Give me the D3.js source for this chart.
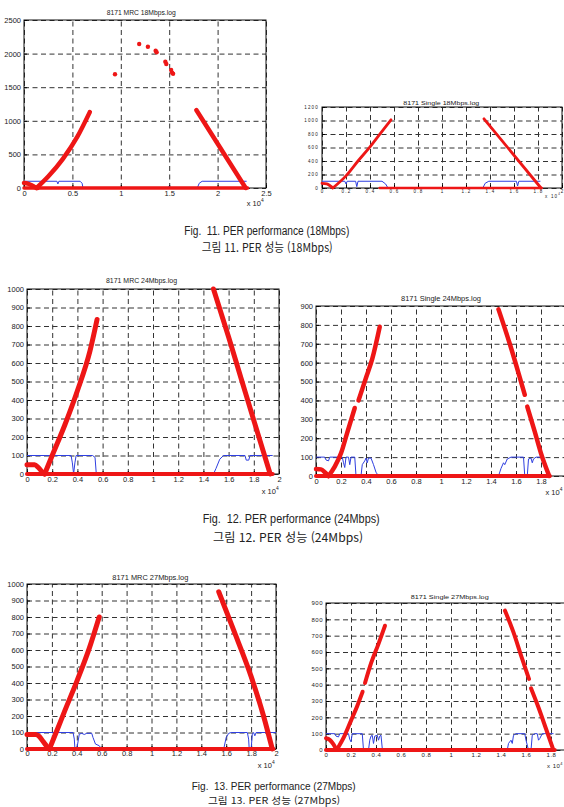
<!DOCTYPE html>
<html lang="ko">
<head>
<meta charset="utf-8">
<title>PER performance</title>
<script src="https://cdn.jsdelivr.net/npm/d3@7"></script>
<style>
body { margin: 0; background: #fff; }
svg { display: block; }
text { font-family: "Liberation Sans", Arial, sans-serif; fill: #222; }
.grid line { stroke: #333; stroke-dasharray: 5,3.5; }
.grid path { display: none; }
.cap { white-space: pre; }
</style>
</head>
<body>
<svg id="page" width="564" height="807"></svg>
<script>
// ---- tick values ----
var xTicksHalf = [0, 0.5, 1, 1.5, 2, 2.5];
var xTicksTwo = [0, 0.2, 0.4, 0.6, 0.8, 1, 1.2, 1.4, 1.6, 1.8, 2];
var xLabelsCut = [0, 0.2, 0.4, 0.6, 0.8, 1, 1.2, 1.4, 1.6, 1.8];   // page edge hides "2"
var yTicks2500 = [0, 500, 1000, 1500, 2000, 2500];
var yTicks1200 = [0, 200, 400, 600, 800, 1000, 1200];
var yTicks1000 = [0, 100, 200, 300, 400, 500, 600, 700, 800, 900, 1000];
var yTicks900 = [0, 100, 200, 300, 400, 500, 600, 700, 800, 900];

// ---- Fig 11 left: 8171 MRC 18Mbps (x in 10^4) ----
var mrc18Red = [
  [[0, 75], [0.04, 65], [0.08, 40], [0.12, 8], [0.14, 2]],
  [[0.13, 0], [0.25, 170], [0.4, 430], [0.55, 760], [0.68, 1130]],
  [[1.78, 1160], [2.29, 0]],
  [[0, 0], [2.31, 0]]
];
var mrc18Scatter = [[0.94, 1692], [1.19, 2143], [1.28, 2103], [1.36, 2043], [1.37, 2019],
  [1.46, 1880], [1.47, 1845], [1.52, 1756], [1.53, 1716], [1.54, 1700]];
var mrc18Blue = [[0, 100], [0.34, 100], [0.35, 60], [0.36, 100], [0.58, 100], [0.6, 70], [0.61, 0],
  [1.49, 0], [1.5, 30], [1.51, 0], [1.79, 0], [1.81, 70], [1.84, 100], [2.3, 100]];

// ---- Fig 11 right: 8171 Single 18Mbps ----
var single18Red = [
  [[0, 70], [0.04, 60], [0.07, 30], [0.09, 5]],
  [[0.09, 0], [0.2, 180], [0.3, 400], [0.4, 610], [0.5, 840], [0.575, 1010]],
  [[1.35, 1025], [1.825, 0]],
  [[0.48, 0], [1.83, 0]]
];
var single18Blue = [[0, 100], [0.19, 100], [0.2, 60], [0.21, 100], [0.28, 100], [0.29, 20], [0.3, 100],
  [0.5, 100], [0.53, 60], [0.55, 0], [1.34, 0], [1.36, 70], [1.39, 100], [1.62, 100], [1.63, 30],
  [1.64, 100], [1.82, 100]];

// ---- Fig 12 left: 8171 MRC 24Mbps ----
var mrc24Red = [
  [[0, 50], [0.06, 50], [0.09, 35], [0.12, 12], [0.14, 0]],
  [[0.14, 0], [0.2, 100], [0.3, 265], [0.4, 450], [0.5, 665], [0.556, 835]],
  [[1.48, 1000], [1.6, 740], [1.7, 515], [1.8, 290], [1.93, 0]],
  [[0, 0], [1.95, 0]]
];
var mrc24Blue = [[0, 100], [0.35, 100], [0.36, 60], [0.37, 0], [0.38, 60], [0.39, 100], [0.52, 100],
  [0.54, 90], [0.55, 0], [1.48, 0], [1.5, 30], [1.53, 80], [1.56, 100], [1.73, 100], [1.74, 75],
  [1.76, 75], [1.77, 100], [1.95, 100]];

// ---- Fig 12 right: 8171 Single 24Mbps ----
var single24Red = [
  [[0, 37], [0.04, 35], [0.07, 20], [0.1, 0]],
  [[0.1, 0], [0.15, 50], [0.2, 120], [0.25, 230], [0.31, 360]],
  [[0.34, 400], [0.4, 520], [0.45, 620], [0.51, 790]],
  [[1.46, 882], [1.55, 700], [1.62, 545], [1.67, 430]],
  [[1.69, 367], [1.75, 235], [1.8, 120], [1.866, 0]],
  [[0, 0], [1.87, 0]]
];
var single24Blue = [[0, 100], [0.07, 100], [0.08, 85], [0.1, 80], [0.11, 100], [0.21, 100], [0.22, 70],
  [0.23, 45], [0.24, 100], [0.26, 100], [0.27, 60], [0.28, 100], [0.31, 100], [0.32, 0], [0.36, 0],
  [0.37, 60], [0.39, 80], [0.4, 95], [0.41, 70], [0.42, 95], [0.44, 95], [0.46, 60], [0.48, 20],
  [0.5, 0], [1.46, 0], [1.48, 40], [1.5, 70], [1.51, 60], [1.53, 90], [1.56, 100], [1.66, 100],
  [1.67, 0], [1.69, 0], [1.7, 90], [1.72, 95], [1.73, 70], [1.74, 90], [1.76, 100], [1.82, 100]];

// ---- Fig 13 left: 8171 MRC 27Mbps ----
var mrc27Red = [
  [[0, 88], [0.07, 88], [0.1, 75], [0.13, 45], [0.16, 15], [0.18, 0]],
  [[0.18, 0], [0.25, 130], [0.3, 225], [0.4, 410], [0.5, 610], [0.58, 800]],
  [[1.54, 953], [1.66, 720], [1.8, 440], [1.9, 200], [1.97, 0]],
  [[0, 0], [1.98, 0]]
];
var mrc27Blue = [[0, 100], [0.37, 100], [0.38, 60], [0.385, 0], [0.4, 0], [0.42, 90], [0.44, 95],
  [0.46, 88], [0.48, 95], [0.52, 95], [0.53, 70], [0.55, 30], [0.58, 20], [0.6, 0], [1.58, 0],
  [1.6, 70], [1.62, 95], [1.64, 100], [1.77, 100], [1.78, 60], [1.785, 0], [1.8, 0], [1.81, 90],
  [1.82, 100], [1.83, 80], [1.84, 100], [2, 100]];

// ---- Fig 13 right: 8171 Single 27Mbps ----
var single27Red = [
  [[0, 72], [0.03, 62], [0.06, 35], [0.085, 0]],
  [[0.085, 0], [0.15, 90], [0.2, 180], [0.25, 270], [0.293, 357]],
  [[0.312, 410], [0.36, 530], [0.42, 650], [0.472, 761]],
  [[1.432, 853], [1.5, 720], [1.56, 580], [1.624, 435]],
  [[1.64, 378], [1.7, 260], [1.76, 130], [1.819, 0]],
  [[0, 0], [1.83, 0]]
];
var single27Blue = [[0, 100], [0.07, 100], [0.08, 85], [0.1, 80], [0.11, 100], [0.18, 100], [0.19, 65],
  [0.2, 50], [0.21, 100], [0.29, 100], [0.3, 0], [0.34, 0], [0.35, 60], [0.36, 85], [0.37, 90],
  [0.38, 40], [0.39, 85], [0.41, 90], [0.42, 60], [0.43, 85], [0.44, 90], [0.45, 10], [0.46, 0],
  [1.45, 0], [1.46, 40], [1.48, 60], [1.49, 40], [1.5, 90], [1.52, 100], [1.59, 100], [1.6, 60],
  [1.62, 0], [1.64, 0], [1.65, 90], [1.67, 100], [1.69, 100], [1.7, 60], [1.71, 70], [1.73, 100],
  [1.82, 100]];

var captionLines = [
  "Fig.  11. PER performance (18Mbps)", "그림 11. PER 성능 (18Mbps)",
  "Fig.  12. PER performance (24Mbps)", "그림 12. PER 성능 (24Mbps)",
  "Fig.  13. PER performance (27Mbps)", "그림 13. PER 성능 (27Mbps)"
];

var RED = "#ee1616", BLUE = "#2f3fe0";
var svg = d3.select("#page");

function drawChart(c) {
  var g = svg.append("g").attr("transform", "translate(" + c.left + "," + c.top + ")");
  var x = d3.scaleLinear().domain(c.xDomain).range([0, c.w]);
  var y = d3.scaleLinear().domain(c.yDomain).range([c.h, 0]);

  // dashed grid
  g.append("g").attr("class", "grid").attr("transform", "translate(0," + c.h + ")")
    .call(d3.axisBottom(x).tickValues(c.xTicks).tickSize(-c.h).tickFormat(""));
  g.append("g").attr("class", "grid")
    .call(d3.axisLeft(y).tickValues(c.yTicks).tickSize(-c.w).tickFormat(""));

  // box
  g.append("rect").attr("width", c.w).attr("height", c.h)
    .attr("fill", "none").attr("stroke", "#111").attr("stroke-width", 1);

  // axes
  var fmt = d3.format("~g");
  var xa = g.append("g").attr("transform", "translate(0," + c.h + ")")
    .call(d3.axisBottom(x).tickValues(c.xLabels || c.xTicks).tickSizeInner(-3).tickSizeOuter(0)
      .tickPadding(c.xPad).tickFormat(fmt));
  var ya = g.append("g")
    .call(d3.axisLeft(y).tickValues(c.yTicks).tickSizeInner(-3).tickSizeOuter(0)
      .tickPadding(3).tickFormat(fmt));
  [xa, ya].forEach(function(a) {
    a.select(".domain").remove();
    a.attr("font-family", null).attr("font-size", null);
    a.selectAll("text").style("font-size", c.font + "px").style("letter-spacing", c.ls + "px");
  });

  // blue curve
  var line = d3.line().x(function(d) { return x(d[0]); }).y(function(d) { return y(d[1]); });
  g.append("path").datum(c.blue).attr("d", line)
    .attr("fill", "none").attr("stroke", BLUE).attr("stroke-width", 1);

  // red markers (dense '*' trace drawn as thick bands)
  var redLine = d3.line().curve(d3.curveMonotoneX)
    .x(function(d) { return x(d[0]); }).y(function(d) { return y(d[1]); });
  g.selectAll(".red").data(c.red).enter().append("path")
    .attr("d", redLine).attr("fill", "none").attr("stroke", RED)
    .attr("stroke-linecap", "round").attr("stroke-linejoin", "round")
    .attr("stroke-width", function(d, i) { return i === c.red.length - 1 ? c.baseW : c.redW; });
  if (c.scatter) {
    g.selectAll(".dot").data(c.scatter).enter().append("circle")
      .attr("cx", function(d) { return x(d[0]); }).attr("cy", function(d) { return y(d[1]); })
      .attr("r", 2.2).attr("fill", RED);
  }

  // title
  svg.append("text").attr("x", c.titleX).attr("y", c.titleY)
    .attr("textLength", c.titleL).attr("lengthAdjust", "spacingAndGlyphs")
    .style("font-size", c.titleFont + "px").text(c.title);

  // x 10^4
  var ex = svg.append("text").attr("x", c.expX).attr("y", c.expY)
    .style("font-size", c.font + "px").style("letter-spacing", c.ls + "px").text("x 10");
  ex.append("tspan").attr("dy", -c.font * 0.5).style("font-size", (c.font * 0.65) + "px").text("4");
}

var charts = [
  { left: 24, top: 20, w: 242, h: 168, xDomain: [0, 2.5], yDomain: [0, 2500],
    xTicks: xTicksHalf, yTicks: yTicks2500, red: mrc18Red, blue: mrc18Blue, scatter: mrc18Scatter,
    font: 7.5, ls: 0, xPad: 2.5, redW: 4.5, baseW: 3.5,
    title: "8171 MRC 18Mbps.log", titleX: 106.7, titleY: 15.4, titleL: 69, titleFont: 7.5,
    expX: 246.7, expY: 206 },
  { left: 322, top: 107, w: 240, h: 81, xDomain: [0, 2], yDomain: [0, 1200],
    xTicks: xTicksTwo, yTicks: yTicks1200, red: single18Red, blue: single18Blue,
    font: 4.5, ls: 1.2, xPad: 1.5, redW: 2.8, baseW: 2.5,
    title: "8171 Single 18Mbps.log", titleX: 403.3, titleY: 104.5, titleL: 76, titleFont: 5,
    expX: 545, expY: 197.5 },
  { left: 27, top: 289, w: 252, h: 185, xDomain: [0, 2], yDomain: [0, 1000],
    xTicks: xTicksTwo, yTicks: yTicks1000, red: mrc24Red, blue: mrc24Blue,
    font: 7.5, ls: 0, xPad: 2.5, redW: 5, baseW: 4,
    title: "8171 MRC 24Mbps.log", titleX: 106, titleY: 283.2, titleL: 71, titleFont: 7.5,
    expX: 261.7, expY: 493.5 },
  { left: 316, top: 306, w: 250, h: 170, xDomain: [0, 2], yDomain: [0, 900],
    xTicks: xTicksTwo, xLabels: xLabelsCut, yTicks: yTicks900, red: single24Red, blue: single24Blue,
    font: 7.5, ls: 0, xPad: 2.5, redW: 4.5, baseW: 4,
    title: "8171 Single 24Mbps.log", titleX: 401, titleY: 301, titleL: 80, titleFont: 7.5,
    expX: 545.5, expY: 494.5 },
  { left: 27, top: 584, w: 249, h: 165, xDomain: [0, 2], yDomain: [0, 1000],
    xTicks: xTicksTwo, yTicks: yTicks1000, red: mrc27Red, blue: mrc27Blue,
    font: 7.5, ls: 0, xPad: 1.8, redW: 5, baseW: 4,
    title: "8171 MRC 27Mbps.log", titleX: 112.3, titleY: 580, titleL: 76, titleFont: 7.5,
    expX: 257.7, expY: 768 },
  { left: 326, top: 603, w: 250, h: 147, xDomain: [0, 2], yDomain: [0, 900],
    xTicks: xTicksTwo, xLabels: xLabelsCut, yTicks: yTicks900, red: single27Red, blue: single27Blue,
    font: 6, ls: 0.5, xPad: 3, redW: 4, baseW: 4,
    title: "8171 Single 27Mbps.log", titleX: 410.7, titleY: 599, titleL: 78, titleFont: 6,
    expX: 547, expY: 767.5 }
];
charts.forEach(drawChart);

// captions (last pair nudged up/shrunk so it stays on the page)
var capPos = [
  { x: 184.3, y: 235, L: 165, f: 12 }, { x: 201.7, y: 251.5, L: 131, f: 12 },
  { x: 202.7, y: 523, L: 177, f: 12 }, { x: 213, y: 542, L: 150, f: 12 },
  { x: 191.7, y: 789.5, L: 164, f: 11.5 }, { x: 208, y: 804, L: 132, f: 9.5 }
];
svg.selectAll(".cap").data(captionLines).enter().append("text")
  .attr("class", "cap")
  .attr("x", function(d, i) { return capPos[i].x; })
  .attr("y", function(d, i) { return capPos[i].y; })
  .attr("textLength", function(d, i) { return capPos[i].L; })
  .attr("lengthAdjust", "spacingAndGlyphs")
  .style("font-size", function(d, i) { return capPos[i].f + "px"; })
  .style("font-family", function(d, i) { return i % 2 ? "'Noto Sans CJK KR', sans-serif" : "'Liberation Sans', Arial, sans-serif"; })
  .text(function(d) { return d; });
</script>
</body>
</html>
